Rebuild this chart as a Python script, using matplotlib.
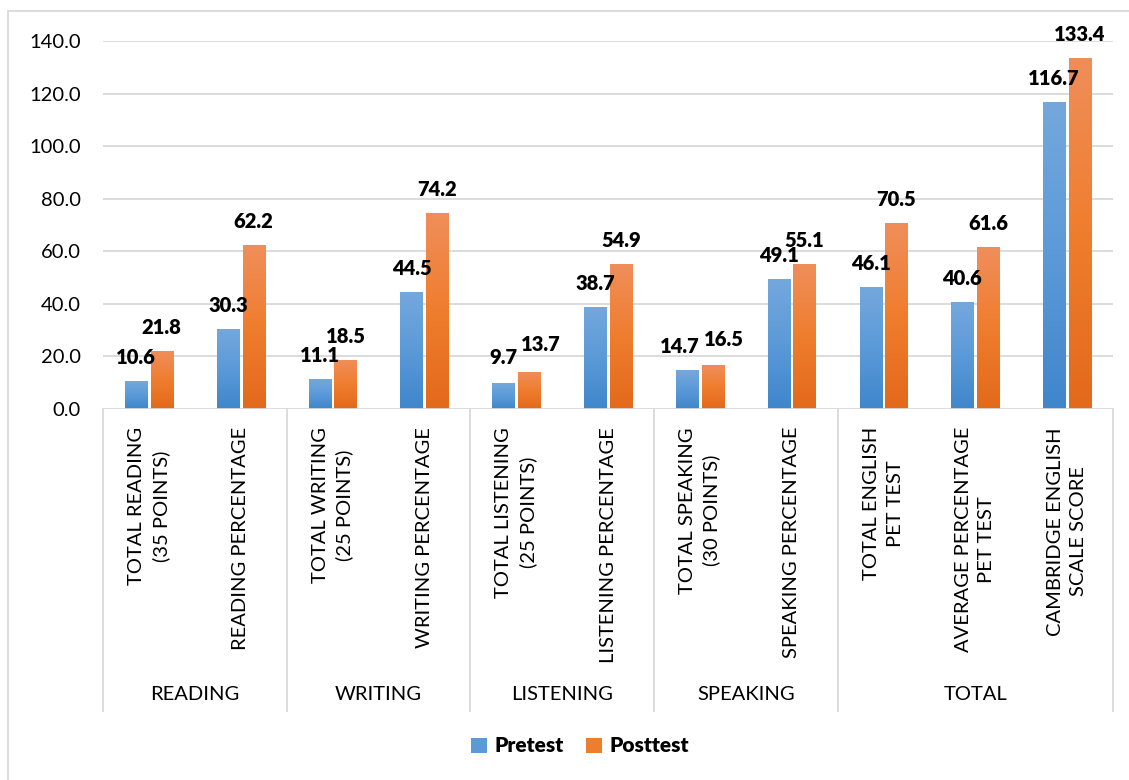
import numpy as np
import matplotlib
matplotlib.use('Agg')
import matplotlib.pyplot as plt
from matplotlib.colors import LinearSegmentedColormap
from matplotlib.patches import Rectangle, Patch
from matplotlib.lines import Line2D

plt.rcParams['font.family'] = ['Lato', 'DejaVu Sans']

# data
groups = ['READING', 'WRITING', 'LISTENING', 'SPEAKING', 'TOTAL']
group_sizes = [2, 2, 2, 2, 3]
categories = ['TOTAL READING\n(35 POINTS)', 'READING PERCENTAGE',
              'TOTAL WRITING\n(25 POINTS)', 'WRITING PERCENTAGE',
              'TOTAL LISTENING\n(25 POINTS)', 'LISTENING PERCENTAGE',
              'TOTAL SPEAKING\n(30 POINTS)', 'SPEAKING PERCENTAGE',
              'TOTAL ENGLISH\nPET TEST', 'AVERAGE PERCENTAGE\nPET TEST',
              'CAMBRIDGE ENGLISH\nSCALE SCORE']
pretest = [10.6, 30.3, 11.1, 44.5, 9.7, 38.7, 14.7, 49.1, 46.1, 40.6, 116.7]
posttest = [21.8, 62.2, 18.5, 74.2, 13.7, 54.9, 16.5, 55.1, 70.5, 61.6, 133.4]
yticks = [0, 20, 40, 60, 80, 100, 120, 140]

# label nudges (pixels) where the labels were moved by hand in the original
nudge_pre = {6: (-7, 24), 4: (0, 26)}
nudge_post = {4: (12, 28), 6: (11, 26)}

blue_cm = LinearSegmentedColormap.from_list('b', ['#3f86cb', '#5b9ad8', '#74a8dd'])
orange_cm = LinearSegmentedColormap.from_list('o', ['#e3691b', '#ef7d2e', '#f08e5a'])

fig = plt.figure(figsize=(11.29, 7.8), dpi=100)
ax = fig.add_axes([103/1129, 371/780, 1010/1129, 368/780])

x = np.arange(len(categories))
w = 0.24
off = 0.14
grad = np.linspace(0, 1, 256).reshape(-1, 1)

for vals, dx, cm, nudge in [(pretest, -off, blue_cm, nudge_pre),
                            (posttest, off, orange_cm, nudge_post)]:
    bars = ax.bar(x + dx, vals, width=w, color='none', edgecolor='none', zorder=3)
    for i, (b, v) in enumerate(zip(bars, vals)):
        x0 = b.get_x()
        ax.imshow(grad, extent=[x0, x0 + b.get_width(), 0, b.get_height()],
                  aspect='auto', cmap=cm, origin='lower', zorder=3)
        ax.annotate(f'{v:.1f}', (b.get_x() + b.get_width()/2, v),
                    xytext=nudge.get(i, (0, 24)),
                    textcoords='offset pixels', ha='center', va='center',
                    fontsize=14.5, fontweight=800, zorder=5)

ax.set_xlim(-0.5, len(categories) - 0.5)
ax.set_ylim(0, 140)
ax.set_yticks(yticks)
ax.set_yticklabels([f'{t:.1f}' for t in yticks], fontsize=14.5)
ax.tick_params(axis='y', length=0, pad=16)
ax.set_xticks([])
for s in ax.spines.values():
    s.set_visible(False)
for t in yticks[1:]:
    ax.axhline(t, color='#d9d9d9', lw=1.3, zorder=1)
ax.axhline(0, color='#d9d9d9', lw=1.3, zorder=4)

# category labels
for i, c in enumerate(categories):
    ax.annotate(c, (i, 0), xytext=(0, -18), textcoords='offset pixels',
                rotation=90, ha='center', va='top', multialignment='center',
                fontsize=14.5, linespacing=1.45)

# group labels and separators
trans = ax.get_xaxis_transform()
start = 0
bounds = [-0.5]
for g, n in zip(groups, group_sizes):
    mid = start + (n - 1) / 2
    ax.annotate(g, (mid, 0), xytext=(0, -286), textcoords='offset pixels',
                ha='center', va='center', fontsize=14.5)
    start += n
    bounds.append(start - 0.5)
for b in bounds:
    ax.add_line(Line2D([b, b], [0, -302/368], transform=trans, color='#d9d9d9',
                       lw=1.3, clip_on=False))

# legend
handles = [Patch(facecolor='#5b9ad8', label='Pretest'),
           Patch(facecolor='#ef7d2e', label='Posttest')]
fig.legend(handles=handles, loc='center', bbox_to_anchor=(580/1129, 34/780), ncol=2,
           frameon=False, prop={'weight': 800, 'size': 15},
           handlelength=0.75, handleheight=0.75, handletextpad=0.35, columnspacing=1.1)

# outer border
fig.patches.append(Rectangle((8/1129, -0.1), 1.2, (780-11)/780 + 0.1, fill=False,
                             edgecolor='#d9d9d9', lw=1.3, transform=fig.transFigure))

fig.savefig('out.png', dpi=100)
